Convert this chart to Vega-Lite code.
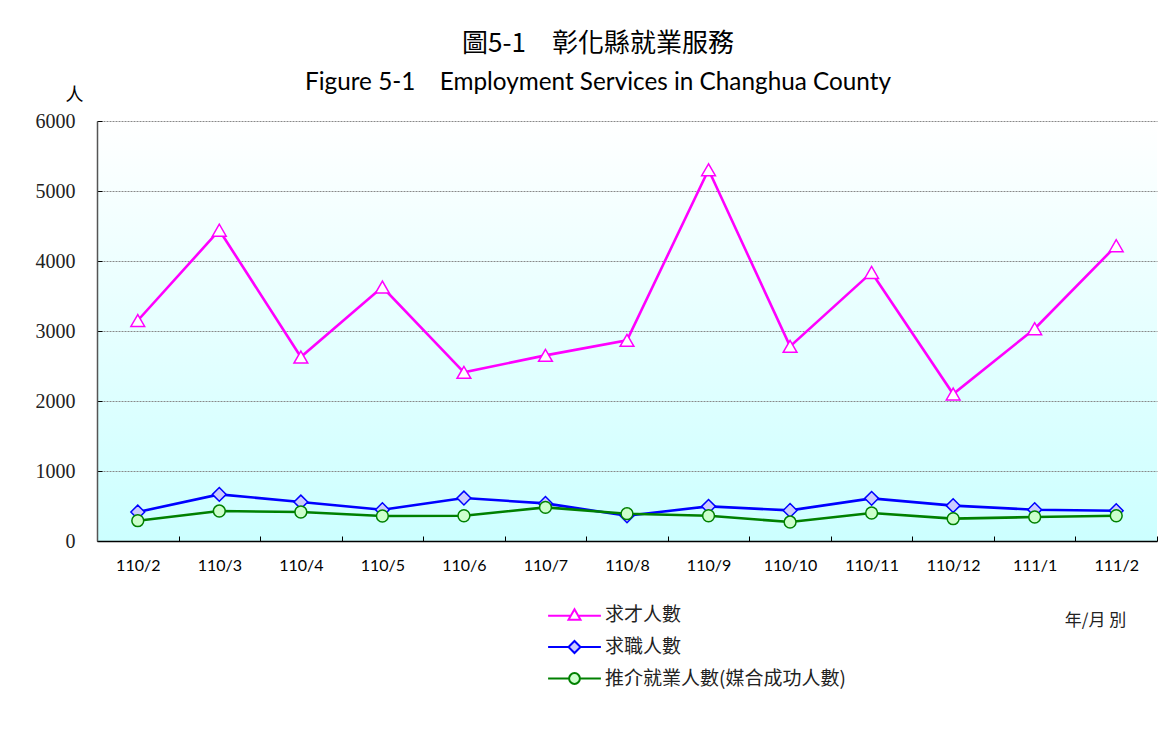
{
  "$schema": "https://vega.github.io/schema/vega-lite/v6.json",
  "width": 1060,
  "height": 420,
  "autosize": "none",
  "padding": {"left": 97, "top": 121, "right": 2, "bottom": 190},
  "background": "white",
  "title": {
    "text": "圖5-1　彰化縣就業服務",
    "subtitle": "Figure 5-1\u2003\u00a0Employment Services in Changhua County",
    "anchor": "middle",
    "frame": "group",
    "dx": -29,
    "offset": -9,
    "font": "Noto Sans CJK TC",
    "fontSize": 26,
    "fontWeight": "normal",
    "color": "#000",
    "subtitleFont": "Lato",
    "subtitleFontSize": 24.3,
    "subtitleColor": "#000",
    "subtitlePadding": 14
  },
  "config": {
    "view": {
      "stroke": null,
      "fill": {
        "gradient": "linear",
        "x1": 0, "y1": 0, "x2": 0, "y2": 1,
        "stops": [
          {"offset": 0, "color": "#ffffff"},
          {"offset": 1, "color": "#ccffff"}
        ]
      }
    }
  },
  "data": {
    "values": [
      {"month": "110/2", "series": "求才人數", "value": 3150},
      {"month": "110/3", "series": "求才人數", "value": 4440},
      {"month": "110/4", "series": "求才人數", "value": 2628},
      {"month": "110/5", "series": "求才人數", "value": 3628},
      {"month": "110/6", "series": "求才人數", "value": 2409},
      {"month": "110/7", "series": "求才人數", "value": 2652},
      {"month": "110/8", "series": "求才人數", "value": 2866},
      {"month": "110/9", "series": "求才人數", "value": 5304},
      {"month": "110/10", "series": "求才人數", "value": 2780},
      {"month": "110/11", "series": "求才人數", "value": 3837},
      {"month": "110/12", "series": "求才人數", "value": 2100},
      {"month": "111/1", "series": "求才人數", "value": 3033},
      {"month": "111/2", "series": "求才人數", "value": 4219},
      {"month": "110/2", "series": "求職人數", "value": 414},
      {"month": "110/3", "series": "求職人數", "value": 666},
      {"month": "110/4", "series": "求職人數", "value": 557},
      {"month": "110/5", "series": "求職人數", "value": 447},
      {"month": "110/6", "series": "求職人數", "value": 614},
      {"month": "110/7", "series": "求職人數", "value": 537},
      {"month": "110/8", "series": "求職人數", "value": 360},
      {"month": "110/9", "series": "求職人數", "value": 495},
      {"month": "110/10", "series": "求職人數", "value": 437},
      {"month": "110/11", "series": "求職人數", "value": 609},
      {"month": "110/12", "series": "求職人數", "value": 505},
      {"month": "111/1", "series": "求職人數", "value": 447},
      {"month": "111/2", "series": "求職人數", "value": 433},
      {"month": "110/2", "series": "推介就業人數(媒合成功人數)", "value": 290},
      {"month": "110/3", "series": "推介就業人數(媒合成功人數)", "value": 428},
      {"month": "110/4", "series": "推介就業人數(媒合成功人數)", "value": 414},
      {"month": "110/5", "series": "推介就業人數(媒合成功人數)", "value": 357},
      {"month": "110/6", "series": "推介就業人數(媒合成功人數)", "value": 361},
      {"month": "110/7", "series": "推介就業人數(媒合成功人數)", "value": 480},
      {"month": "110/8", "series": "推介就業人數(媒合成功人數)", "value": 390},
      {"month": "110/9", "series": "推介就業人數(媒合成功人數)", "value": 361},
      {"month": "110/10", "series": "推介就業人數(媒合成功人數)", "value": 271},
      {"month": "110/11", "series": "推介就業人數(媒合成功人數)", "value": 400},
      {"month": "110/12", "series": "推介就業人數(媒合成功人數)", "value": 319},
      {"month": "111/1", "series": "推介就業人數(媒合成功人數)", "value": 343},
      {"month": "111/2", "series": "推介就業人數(媒合成功人數)", "value": 361}
    ]
  },
  "encoding": {
    "x": {
      "field": "month",
      "type": "nominal",
      "sort": null,
      "scale": {"type": "band", "paddingInner": 0, "paddingOuter": 0},
      "axis": {
        "title": "年/月 別",
        "titleX": 998,
        "titleY": 79,
        "titleAlign": "center",
        "titleBaseline": "middle",
        "titleFont": "Noto Sans CJK TC",
        "titleFontSize": 17,
        "titleFontWeight": "normal",
        "titleColor": "#222",
        "labelAngle": 0,
        "labelFont": "Lato",
        "labelFontSize": 16,
        "labelColor": "#000",
        "labelPadding": 21,
        "tickBand": "extent",
        "tickSize": -5,
        "tickColor": "#000",
        "domainColor": "#000",
        "domainWidth": 1.5,
        "grid": false
      }
    },
    "y": {
      "field": "value",
      "type": "quantitative",
      "scale": {"domain": [0, 6000], "nice": false},
      "axis": {
        "values": [0, 1000, 2000, 3000, 4000, 5000, 6000],
        "format": "d",
        "title": "人",
        "titleAngle": 0,
        "titleX": -23,
        "titleY": -26,
        "titleAlign": "center",
        "titleBaseline": "middle",
        "titleFont": "Noto Sans CJK TC",
        "titleFontSize": 18,
        "titleFontWeight": "normal",
        "titleColor": "#000",
        "labelFont": "Liberation Serif",
        "labelFontSize": 20,
        "labelColor": "#222",
        "labelPadding": 27,
        "tickSize": -5,
        "tickColor": "#000",
        "domainColor": "#555",
        "domainWidth": 1.5,
        "grid": true,
        "gridColor": "#888",
        "gridDash": [2, 1],
        "gridWidth": 1
      }
    }
  },
  "layer": [
    {
      "mark": {"type": "line", "strokeWidth": 2.6},
      "encoding": {
        "color": {
          "field": "series",
          "type": "nominal",
          "scale": {
            "domain": ["求才人數", "求職人數", "推介就業人數(媒合成功人數)"],
            "range": ["#ff00ff", "#0000ff", "#008000"]
          },
          "legend": {
            "orient": "none",
            "legendX": 468,
            "legendY": 484,
            "title": null,
            "padding": 0,
            "symbolSize": 144,
            "symbolStrokeWidth": 2,
            "labelOffset": 21,
            "labelLimit": 400,
            "labelFont": "Noto Sans CJK TC",
            "labelFontSize": 19,
            "labelColor": "#222",
            "rowPadding": 11.5
          }
        }
      }
    },
    {
      "transform": [{"filter": "datum.series === '求才人數'"}],
      "mark": {"type": "point", "shape": "triangle-up", "filled": true, "fill": "#ffffff", "stroke": "#ff00ff", "size": 190, "strokeWidth": 1.5, "opacity": 1}
    },
    {
      "transform": [{"filter": "datum.series === '求職人數'"}],
      "mark": {"type": "point", "shape": "diamond", "filled": true, "fill": "#ccccff", "stroke": "#0000ff", "size": 190, "strokeWidth": 1.5, "opacity": 1}
    },
    {
      "transform": [{"filter": "datum.series === '推介就業人數(媒合成功人數)'"}],
      "mark": {"type": "point", "shape": "circle", "filled": true, "fill": "#ccffcc", "stroke": "#008000", "size": 140, "strokeWidth": 1.5, "opacity": 1}
    },
    {
      "transform": [{"filter": "false"}],
      "mark": {"type": "point", "filled": false, "strokeWidth": 2, "opacity": 1},
      "encoding": {
        "color": {"field": "series", "type": "nominal"},
        "shape": {
          "field": "series",
          "type": "nominal",
          "scale": {
            "domain": ["求才人數", "求職人數", "推介就業人數(媒合成功人數)"],
            "range": [
              "M-4.4,0.2H-0.61M0.61,0.2H4.4M0,-0.87L1,0.87L-1,0.87Z",
              "M-4.4,0H-1M1,0H4.4M0,-1L1,0L0,1L-1,0Z",
              "M-4.4,0H-0.9M0.9,0H4.4M0.9,0A0.9,0.9,0,1,1,-0.9,0A0.9,0.9,0,1,1,0.9,0Z"
            ]
          }
        },
        "fill": {
          "field": "series",
          "type": "nominal",
          "scale": {
            "domain": ["求才人數", "求職人數", "推介就業人數(媒合成功人數)"],
            "range": ["#ffffff", "#ccccff", "#ccffcc"]
          }
        }
      }
    }
  ]
}
